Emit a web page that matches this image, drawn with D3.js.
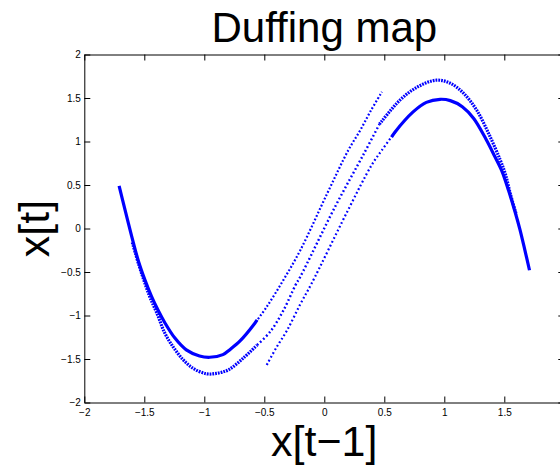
<!DOCTYPE html>
<html>
<head>
<meta charset="utf-8">
<script src="https://cdn.jsdelivr.net/npm/d3@7"></script>
<style>
  body { margin: 0; background: #fff; }
  svg text { font-family: "Liberation Sans", Arial, Helvetica, sans-serif; }
</style>
</head>
<body>
<svg id="chart" width="560" height="468"></svg>
<script>
// Axis ticks (the x label at 2 falls outside the window, so only ticks are drawn there)
const xTicks = [-2, -1.5, -1, -0.5, 0, 0.5, 1, 1.5, 2];
const xTickLabels = [-2, -1.5, -1, -0.5, 0, 0.5, 1, 1.5];
const yTicks = [-2, -1.5, -1, -0.5, 0, 0.5, 1, 1.5, 2];

// Attractor strands, as [x[t-1], x[t]] pairs
const lowerInnerCurve = [
  [-1.71, 0.49], [-1.66, 0.21], [-1.605, -0.09], [-1.55, -0.37], [-1.495, -0.59],
  [-1.44, -0.78], [-1.385, -0.94], [-1.33, -1.08], [-1.245, -1.26], [-1.15, -1.395],
  [-1.04, -1.465], [-0.955, -1.48], [-0.845, -1.45], [-0.785, -1.39], [-0.70, -1.29],
  [-0.59, -1.11], [-0.56, -1.05]
];
const lowerInnerLine = [
  [-0.59, -1.11], [-0.48, -0.90], [-0.34, -0.59], [-0.20, -0.25], [0.025, 0.405],
  [0.20, 0.90], [0.30, 1.13], [0.39, 1.36], [0.48, 1.57]
];
const upperInnerCurve = [
  [1.71, -0.48], [1.67, -0.24], [1.63, -0.01], [1.59, 0.19], [1.535, 0.44],
  [1.48, 0.66], [1.42, 0.83], [1.35, 1.02], [1.245, 1.265], [1.15, 1.40],
  [1.05, 1.47], [0.965, 1.485], [0.85, 1.45], [0.74, 1.34], [0.59, 1.11],
  [0.56, 1.05]
];
const upperInnerLine = [
  [0.59, 1.11], [0.48, 0.90], [0.395, 0.73], [0.19, 0.19], [-0.105, -0.63],
  [-0.20, -0.87], [-0.31, -1.17], [-0.40, -1.37], [-0.48, -1.57]
];
const lowerOuterArc = [
  [-1.60, -0.16], [-1.545, -0.42], [-1.49, -0.65], [-1.45, -0.80], [-1.39, -0.99],
  [-1.33, -1.20], [-1.26, -1.36], [-1.175, -1.51], [-1.09, -1.61], [-0.98, -1.67],
  [-0.90, -1.665], [-0.80, -1.625], [-0.675, -1.49], [-0.56, -1.34]
];
const middleLine = [
  [-0.56, -1.34], [-0.45, -1.185], [-0.34, -0.94], [-0.24, -0.65], [-0.20, -0.555],
  [0.09, 0.25], [0.33, 0.86], [0.46, 1.20]
];
const upperOuterArc = [
  [0.46, 1.20], [0.63, 1.475], [0.78, 1.63], [0.935, 1.705], [1.05, 1.67],
  [1.16, 1.555], [1.27, 1.36], [1.38, 1.06], [1.465, 0.79], [1.51, 0.62],
  [1.55, 0.40], [1.60, 0.16]
];

const svg = d3.select("#chart");
const x = d3.scaleLinear().domain([-2, 2]).range([84.3, 564.3]);
const y = d3.scaleLinear().domain([-2, 2]).range([402.5, 54.5]);
const fmt = d3.format("");

// Dot-like rendering for each strand
const strands = [
  { data: lowerOuterArc, width: 3.2, dash: "1.8,1.0" },
  { data: upperOuterArc, width: 3.2, dash: "1.8,1.0" },
  { data: middleLine, width: 2.4, dash: "1.8,2.4" },
  { data: lowerInnerLine, width: 2.2, dash: "1.8,2.0" },
  { data: upperInnerLine, width: 2.2, dash: "1.8,2.4" },
  { data: lowerInnerCurve, width: 3.2, dash: null },
  { data: upperInnerCurve, width: 3.2, dash: null }
];

const line = d3.line()
  .x(d => x(d[0]))
  .y(d => y(d[1]))
  .curve(d3.curveCatmullRom.alpha(0.5));

svg.append("g")
  .selectAll("path")
  .data(strands)
  .join("path")
  .attr("d", d => line(d.data))
  .attr("fill", "none")
  .attr("stroke", "#0000ff")
  .attr("stroke-width", d => d.width)
  .attr("stroke-dasharray", d => d.dash);

// Axes: box with inward ticks on all four sides
function styleAxis(g) {
  g.selectAll("path.domain").attr("stroke", "#000").attr("stroke-width", 1);
  g.selectAll(".tick line").attr("stroke", "#000").attr("stroke-width", 1);
  g.selectAll(".tick text").attr("fill", "#000").attr("font-size", 10);
}

svg.append("g")
  .attr("transform", `translate(0,${y(-2)})`)
  .call(d3.axisBottom(x).tickValues(xTicks)
    .tickFormat(v => xTickLabels.includes(v) ? fmt(v) : "")
    .tickSizeInner(-6).tickSizeOuter(0).tickPadding(6))
  .call(styleAxis);
svg.append("g")
  .attr("transform", `translate(0,${y(2)})`)
  .call(d3.axisTop(x).tickValues(xTicks).tickFormat("").tickSizeInner(-6).tickSizeOuter(0))
  .call(styleAxis);
svg.append("g")
  .attr("transform", `translate(${x(-2)},0)`)
  .call(d3.axisLeft(y).tickValues(yTicks).tickFormat(fmt).tickSizeInner(-6).tickSizeOuter(0).tickPadding(3.5))
  .call(styleAxis);
svg.append("g")
  .attr("transform", `translate(${x(2)},0)`)
  .call(d3.axisRight(y).tickValues(yTicks).tickFormat("").tickSizeInner(-6).tickSizeOuter(0))
  .call(styleAxis);

svg.selectAll(".tick text").attr("font-family", "\"Liberation Sans\", Arial, sans-serif");

// Title and axis labels
svg.append("text")
  .attr("x", 324.3).attr("y", 42)
  .attr("text-anchor", "middle")
  .attr("font-size", 42)
  .text("Duffing map");
svg.append("text")
  .attr("x", 324.3).attr("y", 456)
  .attr("text-anchor", "middle")
  .attr("font-size", 43)
  .text("x[t\u22121]");
svg.append("text")
  .attr("transform", "translate(49,228.5) rotate(-90)")
  .attr("text-anchor", "middle")
  .attr("font-size", 43)
  .text("x[t]");
</script>
</body>
</html>
